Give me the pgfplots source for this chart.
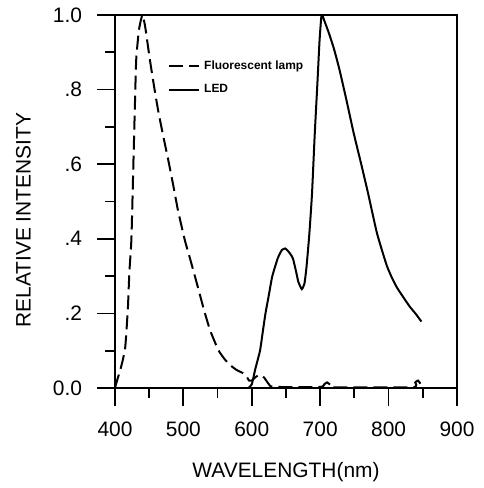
\documentclass[border=0pt]{standalone}
\usepackage{pgfplots}
\pgfplotsset{compat=1.18}
\usepackage{fontspec}
\setmainfont{Liberation Sans}
\begin{document}
\begin{tikzpicture}
\begin{axis}[
  scale only axis, width=171bp, height=186.5bp,
  xmin=400, xmax=900, ymin=0, ymax=1,
  xtick={400,500,600,700,800,900},
  xticklabels={400,500,600,700,800,900},
  ytick={0,0.2,0.4,0.6,0.8,1.0},
  yticklabels={0.0,.2,.4,.6,.8,1.0},
  minor x tick num=1, minor y tick num=1,
  tick align=outside, xtick pos=bottom, ytick pos=left,
  major tick length=9bp, minor tick length=5bp,
  tick style={black, line width=0.9bp},
  axis line style={line width=1bp},
  tick label style={font=\fontsize{10.5}{12}\selectfont},
  xticklabel style={yshift=-4.5bp},
  yticklabel style={xshift=-4bp},
  xlabel={WAVELENGTH(nm)}, ylabel={RELATIVE INTENSITY},
  label style={font=\fontsize{10.5}{12}\selectfont},
  xlabel style={at={(axis description cs:0.5,-0.225)}, anchor=center},
  ylabel style={at={(axis description cs:-0.2675,0.45)}, anchor=center},
  legend style={draw=none, fill=none, at={(axis description cs:0.137,0.90)}, anchor=north west,
    font=\bfseries\fontsize{6}{7}\selectfont, row sep=2bp},
  legend cell align=left,
  legend image code/.code={\draw[#1] (0bp,0bp) -- (15bp,0bp);},
]
\addplot[black, line width=1bp, dash pattern=on 7bp off 3bp, smooth, tension=0.3] coordinates {
(400,0) (403,0.02) (408,0.05) (412,0.08) (415,0.11) (417,0.16) (419,0.22) (421,0.31)
(424,0.4) (427,0.61) (429,0.75) (431,0.88) (435,0.96) (440,1.0)
(444,0.97) (451,0.88) (457,0.81) (463,0.745) (470,0.68) (478,0.61) (485,0.545)
(492,0.477) (502,0.397) (510,0.345) (519,0.285) (530,0.21) (539,0.155)
(551,0.102) (560,0.078) (568,0.062) (578,0.048) (590,0.037)
(596,0.02) (600,0.02) (606,0.03) (612,0.035) (618,0.028) (625,0.01) (632,0.003)
(700,0.003) (706,0.01) (710,0.015) (715,0.008) (720,0.002) (835,0.002) (839,0.015)
(843,0.02) (847,0.01) (850,0.002)
};
\addlegendentry{Fluorescent lamp}
\addplot[black, line width=1bp, smooth, tension=0.3] coordinates {
(595,0) (600,0.01) (605,0.05) (612,0.1) (616,0.15) (620,0.2) (625,0.25) (630,0.3)
(638,0.348) (644,0.37) (649,0.374) (654,0.365) (660,0.348) (665,0.31) (668,0.285)
(673,0.265) (677,0.28) (680,0.325) (684,0.41) (688,0.52) (692,0.68) (696,0.82)
(699,0.93) (702,1.0) (706,0.985) (713,0.95) (720,0.91) (728,0.855) (738,0.775)
(749,0.683) (760,0.60) (770,0.522) (783,0.415) (797,0.33) (805,0.295) (812,0.27)
(822,0.242) (831,0.218) (840,0.198) (848,0.178)
};
\addlegendentry{LED}
\path (rel axis cs:0,0) coordinate (sw) (rel axis cs:1,1) coordinate (ne);
\end{axis}
\pgfresetboundingbox
\path ([shift={(-57.5bp,-50bp)}]sw) rectangle ([shift={(13.5bp,7.5bp)}]ne);
\end{tikzpicture}
\end{document}
